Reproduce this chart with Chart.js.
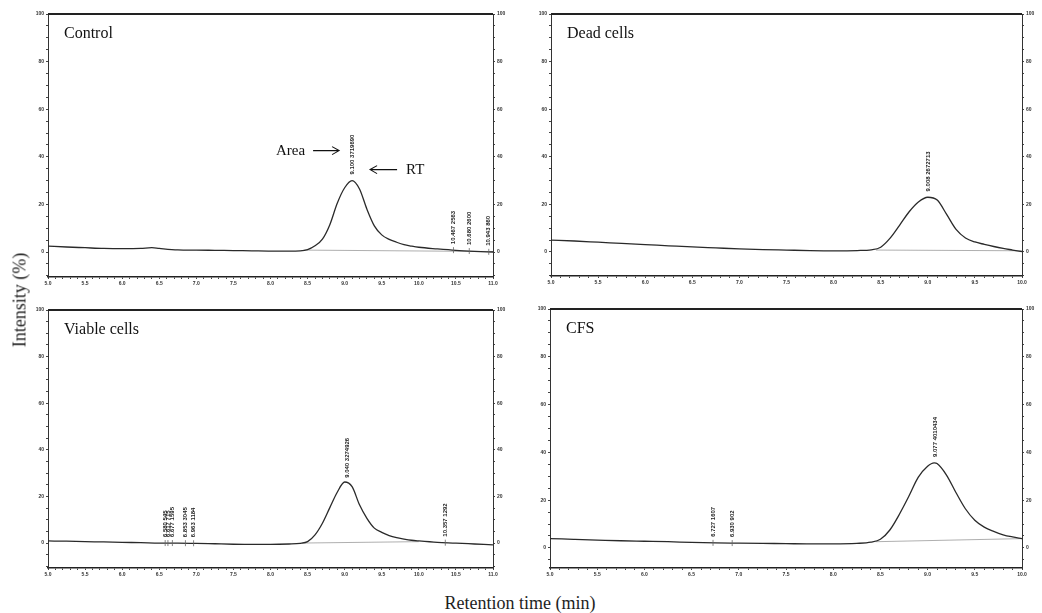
<!DOCTYPE html>
<html>
<head>
<meta charset="utf-8">
<script src="https://cdn.jsdelivr.net/npm/chart.js@4.4.1/dist/chart.umd.min.js"></script>
<style>
  html, body { margin: 0; padding: 0; background: #fff; }
  body { width: 1042px; height: 613px; position: relative; overflow: hidden; font-family: "Liberation Serif", "Times New Roman", serif; color: #1e1e1e; }
  canvas { position: absolute; }
  .ytitle { position: absolute; left: 20px; top: 300px; transform: translate(-50%, -50%) rotate(-90deg); font-size: 18px; white-space: nowrap; }
  .xtitle { position: absolute; left: 520px; top: 603px; transform: translate(-50%, -50%); font-size: 18px; white-space: nowrap; }
</style>
</head>
<body>
<canvas id="control"></canvas>
<canvas id="dead"></canvas>
<canvas id="viable"></canvas>
<canvas id="cfs"></canvas>
<div class="ytitle">Intensity (%)</div>
<div class="xtitle">Retention time (min)</div>
<script>
// tick labels
const xTickLabels = ["5.0", "5.5", "6.0", "6.5", "7.0", "7.5", "8.0", "8.5", "9.0", "9.5", "10.0", "10.5", "11.0"]
const yTickLabels = ["0", "20", "40", "60", "80", "100"]

// Control
const controlTime = [5.0, 5.25, 5.5, 5.75, 6.0, 6.25, 6.4, 6.5, 6.75, 7.0, 7.25, 7.5, 7.75, 8.0, 8.25, 8.4, 8.5, 8.6, 8.7, 8.8, 8.9, 9.0, 9.1, 9.2, 9.3, 9.4, 9.5, 9.6, 9.7, 9.8, 9.9, 10.0, 10.25, 10.5, 10.75, 11.0]
const controlIntensity = [2.5, 2.1, 1.8, 1.5, 1.4, 1.5, 1.8, 1.5, 0.9, 0.8, 0.7, 0.6, 0.5, 0.4, 0.4, 0.5, 1.0, 2.6, 5.4, 11.5, 20.5, 27.0, 30.0, 26.5, 18.0, 11.0, 7.2, 5.3, 4.1, 3.1, 2.5, 2.0, 1.3, 0.7, 0.3, 0.0]
const controlBaseTime = [8.45, 11.0]
const controlBaseIntensity = [0.8, 0.2]
const controlPeakTimes = [9.100, 10.467, 10.680, 10.943]
const controlPeakAreas = [3719690, 2563, 2600, 860]

// Dead cells
const deadTime = [5.0, 5.25, 5.5, 5.75, 6.0, 6.25, 6.5, 6.75, 7.0, 7.25, 7.5, 7.75, 8.0, 8.25, 8.4, 8.5, 8.6, 8.7, 8.8, 8.9, 9.0, 9.1, 9.2, 9.3, 9.4, 9.5, 9.6, 9.7, 9.8, 9.9, 10.0]
const deadIntensity = [5.0, 4.6, 4.1, 3.6, 3.1, 2.6, 2.1, 1.7, 1.3, 1.0, 0.8, 0.6, 0.5, 0.6, 0.9, 2.0, 5.8, 11.2, 16.8, 21.0, 23.0, 21.8, 15.8, 9.5, 5.9, 4.2, 3.2, 2.3, 1.5, 0.8, 0.1]
const deadBaseTime = [8.45, 10.0]
const deadBaseIntensity = [0.8, 0.5]
const deadPeakTimes = [9.008]
const deadPeakAreas = [2672713]

// Viable cells
const viableTime = [5.0, 5.25, 5.5, 5.75, 6.0, 6.25, 6.5, 6.75, 7.0, 7.25, 7.5, 7.75, 8.0, 8.25, 8.4, 8.5, 8.6, 8.7, 8.8, 8.9, 9.0, 9.1, 9.2, 9.3, 9.4, 9.5, 9.6, 9.7, 9.8, 9.9, 10.0, 10.25, 10.5, 10.75, 11.0]
const viableIntensity = [0.9, 0.8, 0.6, 0.5, 0.3, 0.2, 0.0, 0.0, -0.1, -0.3, -0.5, -0.6, -0.6, -0.4, -0.1, 0.6, 3.5, 8.5, 15.2, 21.8, 26.2, 24.2, 16.4, 10.6, 6.4, 4.6, 3.2, 2.3, 1.7, 1.2, 0.9, 0.3, 0.0, -0.4, -0.8]
const viableBaseTime = [8.42, 10.0]
const viableBaseIntensity = [0.0, 0.6]
const viablePeakTimes = [6.580, 6.617, 6.677, 6.853, 6.963, 9.040, 10.357]
const viablePeakAreas = [545, 715, 1595, 3045, 1184, 3274926, 1292]

// CFS
const cfsTime = [5.0, 5.25, 5.5, 5.75, 6.0, 6.25, 6.5, 6.75, 7.0, 7.25, 7.5, 7.75, 8.0, 8.25, 8.4, 8.5, 8.6, 8.7, 8.8, 8.9, 9.0, 9.07, 9.1, 9.2, 9.3, 9.4, 9.5, 9.6, 9.7, 9.8, 9.9, 10.0]
const cfsIntensity = [3.9, 3.6, 3.3, 3.0, 2.8, 2.6, 2.3, 2.1, 2.0, 1.9, 1.8, 1.7, 1.7, 1.9, 2.4, 3.6, 7.5, 14.0, 21.5, 29.5, 34.2, 35.6, 35.3, 30.5, 23.2, 16.4, 11.6, 8.7, 6.9, 5.5, 4.6, 3.9]
const cfsBaseTime = [8.45, 10.0]
const cfsBaseIntensity = [2.6, 3.9]
const cfsPeakTimes = [6.727, 6.930, 9.077]
const cfsPeakAreas = [1607, 902, 4010434]

const PAD_L = 40, PAD_R = 40, PAD_T = 8, PAD_B = 18

const panels = [
  { id: "control", title: "Control", time: controlTime, values: controlIntensity, baseTime: controlBaseTime, baseValues: controlBaseIntensity,
    peakTimes: controlPeakTimes, peakAreas: controlPeakAreas, xMax: 11, yMin: -10.5, box: { left: 48, top: 14, right: 493, bottom: 277 }, arrows: true },
  { id: "dead", title: "Dead cells", time: deadTime, values: deadIntensity, baseTime: deadBaseTime, baseValues: deadBaseIntensity,
    peakTimes: deadPeakTimes, peakAreas: deadPeakAreas, xMax: 10, yMin: -10.1, box: { left: 551, top: 14, right: 1022, bottom: 276 } },
  { id: "viable", title: "Viable cells", time: viableTime, values: viableIntensity, baseTime: viableBaseTime, baseValues: viableBaseIntensity,
    peakTimes: viablePeakTimes, peakAreas: viablePeakAreas, xMax: 11, yMin: -10.7, box: { left: 48, top: 310, right: 493, bottom: 568 } },
  { id: "cfs", title: "CFS", time: cfsTime, values: cfsIntensity, baseTime: cfsBaseTime, baseValues: cfsBaseIntensity,
    peakTimes: cfsPeakTimes, peakAreas: cfsPeakAreas, xMax: 10, yMin: -8.4, box: { left: 550, top: 309, right: 1022, bottom: 568 } },
]

// valeur de la courbe à un temps donné (interpolation linéaire)
function valueAt(times, values, t) {
  for (let i = 1; i < times.length; i++) {
    if (t <= times[i]) {
      const f = (t - times[i - 1]) / (times[i] - times[i - 1])
      return values[i - 1] + f * (values[i] - values[i - 1])
    }
  }
  return values[values.length - 1]
}

function arrow(ctx, x1, x2, y) {
  const dir = x2 > x1 ? 1 : -1
  ctx.beginPath()
  ctx.moveTo(x1, y)
  ctx.lineTo(x2, y)
  ctx.moveTo(x2 - dir * 7, y - 4)
  ctx.lineTo(x2, y)
  ctx.lineTo(x2 - dir * 7, y + 4)
  ctx.stroke()
}

const decorPlugin = {
  id: "decor",
  afterDraw(chart) {
    const p = chart.options.plugins.decor.panel
    const { ctx, chartArea, scales } = chart
    ctx.save()
    // cadre du haut
    ctx.strokeStyle = "#222"
    ctx.lineWidth = 2
    ctx.beginPath()
    ctx.moveTo(chartArea.left, chartArea.top)
    ctx.lineTo(chartArea.right, chartArea.top)
    ctx.stroke()

    // titre du panneau
    ctx.fillStyle = "#111"
    ctx.font = '16px "Liberation Serif", serif'
    ctx.textBaseline = "middle"
    ctx.textAlign = "left"
    ctx.fillText(p.title, chartArea.left + 16, chartArea.top + 20)

    // étiquettes des pics (RT + aire)
    ctx.font = 'bold 6px "Liberation Sans", sans-serif'
    p.peakTimes.forEach((t, i) => {
      const px = scales.x.getPixelForValue(t)
      const cy = scales.y.getPixelForValue(valueAt(p.time, p.values, t))
      ctx.save()
      ctx.translate(px, cy - 6)
      ctx.rotate(-Math.PI / 2)
      ctx.textAlign = "left"
      ctx.fillStyle = "#222"
      ctx.fillText(t.toFixed(3) + " " + p.peakAreas[i], 0, 0)
      ctx.restore()
      if (p.peakAreas[i] < 100000) {
        ctx.strokeStyle = "#666"
        ctx.lineWidth = 0.8
        ctx.beginPath()
        ctx.moveTo(px, cy - 3)
        ctx.lineTo(px, cy + 3)
        ctx.stroke()
      }
    })

    // flèches "Area" et "RT"
    if (p.arrows) {
      const ax = scales.x.getPixelForValue(p.peakTimes[0])
      const ay = scales.y.getPixelForValue(valueAt(p.time, p.values, p.peakTimes[0]))
      ctx.font = '15px "Liberation Serif", serif'
      ctx.fillStyle = "#111"
      ctx.strokeStyle = "#111"
      ctx.lineWidth = 1.1
      ctx.textAlign = "right"
      ctx.fillText("Area", ax - 47, ay - 30)
      arrow(ctx, ax - 39, ax - 13, ay - 30)
      ctx.textAlign = "left"
      ctx.fillText("RT", ax + 54, ay - 11)
      arrow(ctx, ax + 45, ax + 18, ay - 11)
    }
    ctx.restore()
  },
}

function yAxis(p, position, width) {
  return {
    type: "linear",
    position: position,
    min: p.yMin,
    max: 100,
    afterFit(scale) { scale.width = width },
    afterBuildTicks(scale) {
      const ticks = []
      for (let v = -10; v <= 100; v += 5) if (v >= p.yMin) ticks.push({ value: v })
      scale.ticks = ticks
    },
    ticks: {
      autoSkip: false,
      padding: 2,
      color: "#333",
      font: { size: 5, weight: "bold", family: "Liberation Sans" },
      callback: (v) => (yTickLabels.includes(String(v)) ? String(v) : ""),
    },
    grid: { drawOnChartArea: false, tickLength: 2, color: "#444" },
    border: { color: "#333", width: 1 },
  }
}

function makeChart(p) {
  const canvas = document.getElementById(p.id)
  const w = p.box.right - p.box.left + PAD_L + PAD_R
  const h = p.box.bottom - p.box.top + PAD_T + PAD_B
  canvas.width = w
  canvas.height = h
  canvas.style.left = p.box.left - PAD_L + "px"
  canvas.style.top = p.box.top - PAD_T + "px"
  canvas.style.width = w + "px"
  canvas.style.height = h + "px"

  new Chart(canvas.getContext("2d"), {
    type: "line",
    data: {
      datasets: [
        {
          data: p.time.map((t, i) => ({ x: t, y: p.values[i] })),
          borderColor: "#2a2a2a",
          borderWidth: 1.3,
          pointRadius: 0,
          cubicInterpolationMode: "monotone",
          fill: false,
        },
        {
          data: p.baseTime.map((t, i) => ({ x: t, y: p.baseValues[i] })),
          borderColor: "#9a9a9a",
          borderWidth: 0.8,
          pointRadius: 0,
          fill: false,
        },
      ],
    },
    options: {
      responsive: false,
      animation: false,
      layout: { padding: { top: PAD_T, left: 0, right: 0, bottom: 0 } },
      plugins: { legend: { display: false }, tooltip: { enabled: false }, decor: { panel: p } },
      scales: {
        x: {
          type: "linear",
          min: 5,
          max: p.xMax,
          afterFit(scale) { scale.height = PAD_B },
          afterBuildTicks(scale) {
            const ticks = []
            for (let i = 0; i <= Math.round((p.xMax - 5) * 10); i++) ticks.push({ value: Math.round((5 + i / 10) * 10) / 10 })
            scale.ticks = ticks
          },
          ticks: {
            autoSkip: false,
            maxRotation: 0,
            minRotation: 0,
            padding: 2,
            color: "#333",
            font: { size: 5, weight: "bold", family: "Liberation Sans" },
            callback: (v) => xTickLabels.find((l) => Math.abs(parseFloat(l) - v) < 1e-6) || "",
          },
          grid: { drawOnChartArea: false, tickLength: 2, color: "#444" },
          border: { color: "#222", width: 1.6 },
        },
        y: yAxis(p, "left", PAD_L),
        y2: yAxis(p, "right", PAD_R),
      },
    },
    plugins: [decorPlugin],
  })
}

panels.forEach(makeChart)
</script>
</body>
</html>
